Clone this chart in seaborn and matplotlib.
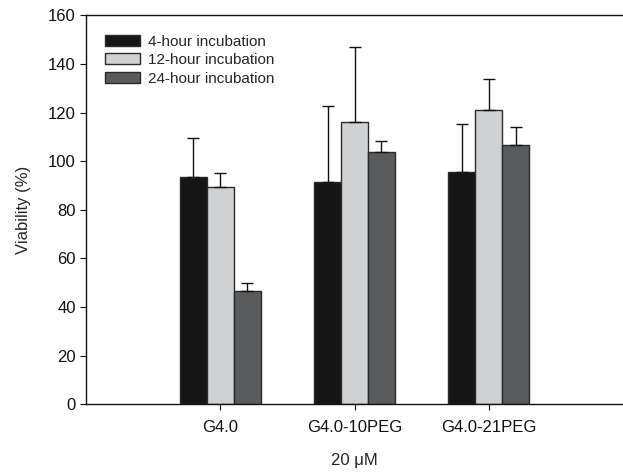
import pandas as pd
import seaborn as sns
import matplotlib.pyplot as plt

# values
groups = ["G4.0", "G4.0-10PEG", "G4.0-21PEG"]
series = ["4-hour incubation", "12-hour incubation", "24-hour incubation"]
viab_4h = [93.6, 91.3, 95.4]
viab_12h = [89.3, 116.3, 120.9]
viab_24h = [46.5, 103.7, 106.5]
err_4h = [16.1, 31.4, 19.9]
err_12h = [6.0, 30.6, 12.8]
err_24h = [3.5, 4.6, 7.6]
colores = ["#151515", "#d0d1d3", "#5a5b5d"]

means = [viab_4h, viab_12h, viab_24h]
errs = [err_4h, err_12h, err_24h]

rows = []
for s, vals in zip(series, means):
    for g, v in zip(groups, vals):
        rows.append({"grupo": g, "serie": s, "viab": v})
df = pd.DataFrame(rows)

sns.set_style("ticks")
plt.rcParams["font.family"] = ["Liberation Sans", "DejaVu Sans"]

fig = plt.figure(figsize=(6.23, 4.72), dpi=100)
ax = fig.add_axes([86 / 623, 1 - 404.3 / 472, 1 - 86 / 623, (404.3 - 15.3) / 472])

sns.barplot(data=df, x="grupo", y="viab", hue="serie", palette=colores,
            saturation=1, width=0.6, errorbar=None, edgecolor="#2a2a2a",
            linewidth=1, ax=ax)

# error bars, only upward
for cont, e in zip(ax.containers, errs):
    xs = [b.get_x() + b.get_width() / 2 for b in cont]
    ys = [b.get_height() for b in cont]
    ax.errorbar(xs, ys, yerr=[[0] * len(e), e], fmt="none", ecolor="#111111",
                elinewidth=1, capsize=4.4, capthick=1, zorder=1)

ax.set_xlim(-1, 3)
ax.set_ylim(0, 160)
ax.set_yticks(range(0, 161, 20))
ax.tick_params(axis="both", direction="out", length=4.3, width=0.8,
               labelsize=12, colors="#111111", pad=3)
ax.tick_params(axis="x", pad=7)
for side in ["left", "top", "bottom"]:
    ax.spines[side].set_linewidth(1)
    ax.spines[side].set_color("#111111")
ax.spines["right"].set_visible(False)

ax.set_ylabel("Viability (%)", fontsize=12, labelpad=12)
ax.set_xlabel("20 \u03bcM", fontsize=12, labelpad=13)

leg = ax.legend(loc="upper left", bbox_to_anchor=(105 / 623, 1 - 34.5 / 472),
                bbox_transform=fig.transFigure, frameon=False, fontsize=11,
                handlelength=2.3, handleheight=0.7, handletextpad=0.5,
                labelspacing=0.3, borderpad=0, borderaxespad=0, title=None)

fig.savefig("out.png", dpi=100)
